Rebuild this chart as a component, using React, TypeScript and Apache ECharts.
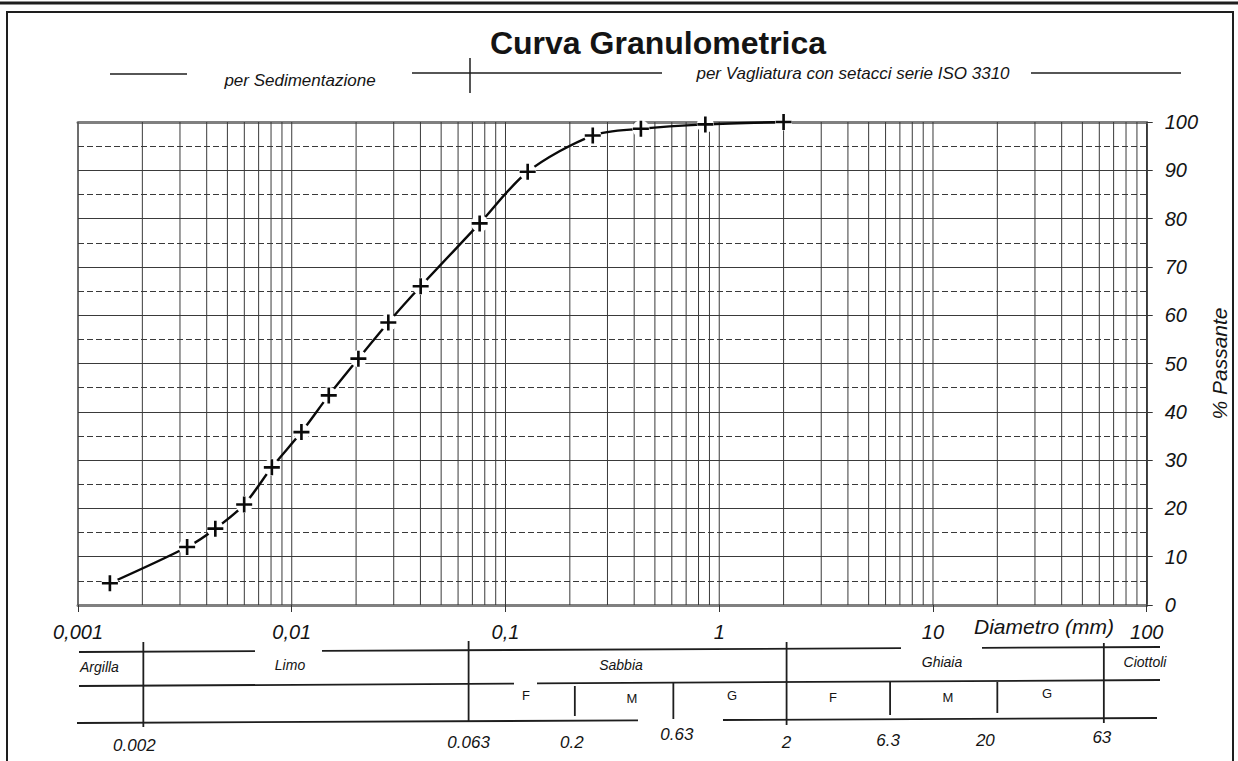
import React, { useEffect, useRef } from "react";
import * as echarts from "echarts";

// ---- data ----
const diameters = [0.00141, 0.00324, 0.00439, 0.00599, 0.00807, 0.0111, 0.0149, 0.0205, 0.0283, 0.0401, 0.0757, 0.127, 0.256, 0.43, 0.861, 2.0];
const passing = [4.5, 12.0, 15.8, 20.8, 28.5, 35.8, 43.4, 51.0, 58.5, 66.0, 79.0, 89.7, 97.2, 98.6, 99.5, 100];
const xTickLabels = ["0,001", "0,01", "0,1", "1", "10", "100"];
const gridDecades = [0.001, 0.01, 0.1, 1, 10];
const gridMultipliers = [1, 2, 3, 4, 5, 6, 7, 8, 9];
const boundaryValues = [0.002, 0.063, 0.2, 0.63, 2, 6.3, 20, 63];
const boundaryLabels = ["0.002", "0.063", "0.2", "0.63", "2", "6.3", "20", "63"];
const fractionNames = ["Argilla", "Limo", "Sabbia", "Ghiaia", "Ciottoli"];
const subFractionNames = ["F", "M", "G", "F", "M", "G"];

// ---- layout (form decoration) ----
const FONT = '"Liberation Sans", Arial, Helvetica, sans-serif';
const INK = "#141414";
const GRID = "#3a3a3a";
const boundaryDx = [1, 6, 5, -3, 3, 0, 0, 0];
const boundaryY = [[642, 727], [641, 722], [686, 716], [683, 719], [642, 725], [682, 715], [682, 713], [643, 723]];
const labelDx = [-9, 0, -3, 3.5, 0, -2, -12, -2];
const labelY = [745, 742, 742, 734, 742, 740, 740, 737];
const fractionPos = [[80, 667, "left"], [290, 665, "center"], [621, 665, "center"], [942, 662, "center"], [1145, 662, "center"]];
const subFractionPos = [[526, 695], [632, 698], [732, 695], [833, 697], [948, 697], [1047, 693]];

export default function App() {
  const ref = useRef<HTMLDivElement>(null);
  useEffect(() => {
    document.body.style.margin = "0";
    const chart = echarts.init(ref.current!, undefined, { renderer: "svg" });
    const points = diameters.map((d, i) => [d, passing[i]]);
    const xGrid: number[] = [];
    gridDecades.forEach((d) => gridMultipliers.forEach((m) => xGrid.push(+(d * m).toPrecision(3))));
    xGrid.push(100);
    const cross = "path://M-1.15,-7L1.15,-7L1.15,-1.15L7,-1.15L7,1.15L1.15,1.15L1.15,7L-1.15,7L-1.15,1.15L-7,1.15L-7,-1.15L-1.15,-1.15Z";

    chart.setOption({
      animation: false,
      backgroundColor: "#fff",
      grid: { left: 78, top: 122, width: 1075, height: 483, show: true, borderColor: "#444", borderWidth: 1 },
      xAxis: [
        {
          type: "log", logBase: 10, min: 0.001, max: 100, splitNumber: 5, position: "bottom",
          axisLine: { show: true, lineStyle: { color: "#808080", width: 3 } },
          axisTick: { show: true, length: 7, lineStyle: { color: "#333", width: 1 } },
          axisLabel: {
            formatter: (v: number) => xTickLabels[Math.round(Math.log10(v)) + 3] ?? "",
            fontFamily: FONT, fontStyle: "italic", fontSize: 20, color: INK, margin: 17,
          },
          splitLine: { show: false },
        },
        {
          type: "log", logBase: 10, min: 0.001, max: 100, position: "top",
          axisLine: { show: true, lineStyle: { color: "#808080", width: 3 } },
          axisTick: { show: false }, axisLabel: { show: false }, splitLine: { show: false },
        },
      ],
      yAxis: {
        type: "value", min: 0, max: 100, interval: 10, position: "right",
        axisLine: { show: true, lineStyle: { color: "#222", width: 1.5 } },
        axisTick: { show: true, length: 6, lineStyle: { color: "#333" } },
        axisLabel: { fontFamily: FONT, fontStyle: "italic", fontSize: 20, color: INK, margin: 18 },
        splitLine: { show: true, lineStyle: { color: GRID, width: 1 } },
        minorTick: { show: false, splitNumber: 2 },
        minorSplitLine: { show: true, lineStyle: { color: GRID, width: 1, type: [6, 3] } },
        name: "% Passante", nameLocation: "middle", nameRotate: 90, nameGap: 58,
        nameTextStyle: { fontFamily: FONT, fontStyle: "italic", fontSize: 21, color: INK },
      },
      series: [
        {
          type: "custom", z: 1, silent: true,
          data: xGrid.map((v) => [v, 50]),
          renderItem: (params: any, api: any) => {
            const x = api.coord([api.value(0), 50])[0];
            const cs = params.coordSys;
            return { type: "line", shape: { x1: x, y1: cs.y, x2: x, y2: cs.y + cs.height }, style: { stroke: GRID, lineWidth: 1 } };
          },
        },
        { type: "line", data: points, smooth: 0.3, showSymbol: false, symbol: "none", lineStyle: { color: "#0a0a0a", width: 2.4 }, z: 3, silent: true },
        { type: "scatter", data: points, symbol: "circle", symbolSize: 17, itemStyle: { color: "#fff", opacity: 1 }, z: 4, silent: true },
        { type: "scatter", data: points, symbol: cross, symbolSize: 16, itemStyle: { color: "#0a0a0a", opacity: 1 }, z: 5, silent: true },
      ],
    });

    const px = (v: number) => chart.convertToPixel({ xAxisIndex: 0 }, v) as number;
    const txt = (x: number, y: number, text: string, font: string, align = "center") => ({
      type: "text", x, y,
      style: { text, font, fill: INK, align, verticalAlign: "middle", textAlign: align, textVerticalAlign: "middle" },
    });
    const ln = (x1: number, y1: number, x2: number, y2: number, w = 1.8) => ({
      type: "line", shape: { x1, y1, x2, y2 }, style: { stroke: "#1e1e1e", lineWidth: w },
    });
    const tilt = (y0: number, x0: number, drop: number) => (x: number) => y0 - ((x - x0) * drop) / 1080;
    const r1 = tilt(652, 79, 5), r2 = tilt(686, 79, 6), r3 = tilt(723, 77, 5);

    const g: any[] = [];
    // frame
    g.push(ln(0, 3, 1238, 3, 3));
    g.push({ type: "rect", shape: { x: 7, y: 12, width: 1226, height: 800 }, style: { fill: "none", stroke: "#1e1e1e", lineWidth: 2 } });
    // header
    g.push(txt(658, 43, "Curva Granulometrica", `bold 32px ${FONT}`));
    g.push(txt(300, 80, "per Sedimentazione", `italic 17px ${FONT}`));
    g.push(txt(853, 73, "per Vagliatura con setacci serie ISO 3310", `italic 17px ${FONT}`));
    g.push(ln(110, 74, 187, 74, 1.5));
    g.push(ln(412, 73, 662, 73, 1.5));
    g.push(ln(470, 58, 470, 93, 1.5));
    g.push(ln(1031, 73, 1181, 73, 1.5));
    g.push(txt(1044, 626, "Diametro (mm)", `italic 21px ${FONT}`));
    // table rows
    [[79, 255], [322, 901], [982, 1160]].forEach(([a, b]) => g.push(ln(a, r1(a), b, r1(b))));
    [[79, 514], [537, 1160]].forEach(([a, b]) => g.push(ln(a, r2(a), b, r2(b))));
    [[77, 638], [723, 1157]].forEach(([a, b]) => g.push(ln(a, r3(a), b, r3(b))));
    // boundaries
    boundaryValues.forEach((v, i) => {
      const x = px(v) + boundaryDx[i];
      g.push(ln(x, boundaryY[i][0], x, boundaryY[i][1]));
      g.push(txt(x + labelDx[i], labelY[i], boundaryLabels[i], `italic 17px ${FONT}`));
    });
    fractionNames.forEach((n, i) => {
      const p = fractionPos[i];
      g.push(txt(p[0] as number, p[1] as number, n, `italic 14px ${FONT}`, p[2] as string));
    });
    subFractionNames.forEach((n, i) => g.push(txt(subFractionPos[i][0], subFractionPos[i][1], n, `13px ${FONT}`)));

    chart.setOption({ graphic: { elements: g } });
    return () => chart.dispose();
  }, []);
  return <div ref={ref} style={{ position: "absolute", left: 0, top: 0, width: 1238, height: 761, background: "#fff" }} />;
}
